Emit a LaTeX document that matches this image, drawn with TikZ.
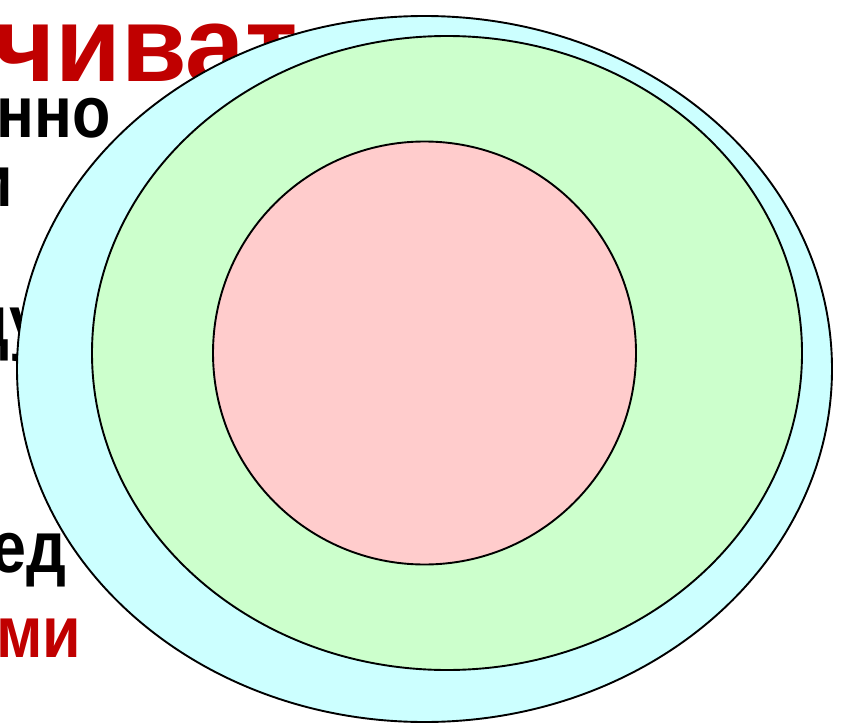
\documentclass[tikz,border=0pt]{standalone}
\usepackage{fontspec}
\setmainfont{Liberation Sans}
\newfontfamily\narrowfont[FakeStretch=0.86]{Liberation Sans}
\usepackage{tikz}
\definecolor{slidered}{HTML}{C00000}
\definecolor{outerfill}{HTML}{CCFFFF}
\definecolor{midfill}{HTML}{CCFFCC}
\definecolor{corefill}{HTML}{FFCCCC}

\begin{document}
\begin{tikzpicture}[x=1pt, y=-1pt,
    word/.style={anchor=base west, inner sep=0pt, font=\narrowfont\fontsize{73}{73}\selectfont\bfseries},
    bigword/.style={word, font=\fontsize{107}{107}\selectfont\bfseries, text=slidered},
    redword/.style={word, text=slidered},
    ring/.style={draw=black, line width=1.9pt},
  ]
  \useasboundingbox (0,0) rectangle (842,727);
  % slide text behind the sets
  \node[bigword] (w1) at (-7,82) {чиват};
  \node[word] (w2) at (-4,138) {нно};
  \node[word] (w3) at (-26,207) {и};
  \node[word] (w4) at (-31,346) {ду};
  \node[word] (w5) at (-9,572) {ед};
  \node[redword] (w6) at (-4,657) {ми};
  % nested sets
  \filldraw[ring, fill=outerfill] (424.5,369) ellipse [x radius=407.5pt, y radius=353pt];
  \filldraw[ring, fill=midfill] (447,353) ellipse [x radius=355pt, y radius=317pt];
  \filldraw[ring, fill=corefill] (424.5,353) circle [radius=211.5pt];
\end{tikzpicture}
\end{document}
